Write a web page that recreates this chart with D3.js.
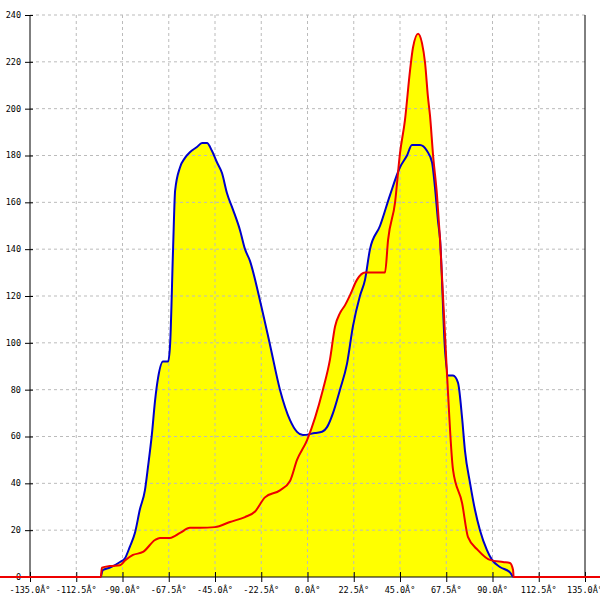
<!DOCTYPE html>
<html><head><meta charset="utf-8">
<script src="https://cdn.jsdelivr.net/npm/d3@7"></script>
<style>body{margin:0;background:#fff}svg{display:block}</style>
</head><body>
<svg id="c" width="600" height="600"></svg>
<script>
const xTicks = [-135, -112.5, -90, -67.5, -45, -22.5, 0, 22.5, 45, 67.5, 90, 112.5, 135];
const yTicks = [0, 20, 40, 60, 80, 100, 120, 140, 160, 180, 200, 220, 240];
const tickSuffix = "Â°";

const blueX = [-100.5,-99.5,-96.1,-91.2,-88.8,-86.4,-83.9,-81.5,-79.1,-77.6,-75.7,-74.2,-72.7,-70.3,-67.8,-66.8,-65.4,-64.4,-62.0,-59.6,-57.1,-53.8,-51.3,-48.9,-46.5,-44.0,-41.6,-39.2,-36.3,-32.8,-30.4,-28.0,-23.1,-18.2,-13.4,-8.5,-5.1,-2.2,3.6,7.1,9.5,12.4,15.8,19.2,22.1,25.5,28.0,30.4,35.3,40.1,45.0,48.4,50.8,54.7,58.1,60.6,62.0,63.5,64.5,66.9,68.4,70.8,73.2,75.2,76.6,79.1,81.5,83.9,87.3,89.8,93.6,98.5,100.0];
const blueY = [0,3,4,6.4,8,13,19,29,37,47,61,75,85,92,92,100,140,165,175,179,181.5,183.6,185.3,185.3,182,177,172.5,164,157,148,140,135,118,99,80,67,62,60.6,61.5,62,64,70,80,91,107,120,127,140,150,163,175,180,184.5,184.5,182,177,166.5,152,144,97,86,86,83,68,54,40,28.6,20,11.5,7.3,4.3,2,0];

const redX = [-160,-100.6,-100.0,-96.1,-91.2,-88.8,-84.9,-80.0,-74.2,-71.8,-66.9,-62.0,-57.2,-52.3,-45.0,-37.7,-30.4,-25.5,-20.7,-13.4,-8.5,-5.1,-0.2,7.5,10.9,13.4,15.8,18.2,20.7,24.1,28.0,37.7,39.2,42.6,45.0,47.4,49.9,51.3,53.8,55.7,57.2,58.6,59.6,61.1,63.0,64.5,67.9,70.8,75.2,78.1,82.9,88.8,95.1,98.5,100.0,100.3,160];
const redY = [0,0,4,4.7,5,7,9.4,10.7,15.8,16.7,16.7,18.8,21,21,21.3,23.5,25.6,28,34,37,41,50,58.5,80,92.7,107,112.7,116,120.4,127,130,130,144,160,181,195,216.5,226,232,228,219.5,205,197,180,163,144,86,45.7,31.6,17,11.5,7.3,6.4,6,3,0,0];

const svg = d3.select("#c");
const x = d3.scaleLinear().domain([-135, 135]).range([30, 585]);
const y = d3.scaleLinear().domain([0, 240]).range([577, 15]);

const blue = blueX.map((d, i) => [d, blueY[i]]);
const red = redX.map((d, i) => [d, redY[i]]);
const curve = d3.curveMonotoneX;

const area = d3.area().x(d => x(d[0])).y0(y(0)).y1(d => y(d[1])).curve(curve);
svg.append("path").datum(blue).attr("d", area).attr("fill", "#ffff00");
svg.append("path").datum(red).attr("d", area).attr("fill", "#ffff00");

// grid
svg.append("g").selectAll("line").data(xTicks.filter(d => d > -135 && d < 135)).join("line")
  .attr("x1", d => x(d)).attr("x2", d => x(d)).attr("y1", y(240)).attr("y2", y(0))
  .attr("stroke", "#bbbbbb").attr("stroke-dasharray", "3,3");
svg.append("g").selectAll("line").data(yTicks.filter(d => d > 0)).join("line")
  .attr("x1", x(-135)).attr("x2", x(135)).attr("y1", d => y(d)).attr("y2", d => y(d))
  .attr("stroke", "#bbbbbb").attr("stroke-dasharray", "3,3");

// axes
const fontF = "'DejaVu Sans Mono', monospace";
const ax = svg.append("g");
ax.append("line").attr("x1", x(-135)).attr("x2", x(-135)).attr("y1", y(240)).attr("y2", y(0)).attr("stroke", "#000");
ax.append("line").attr("x1", x(135)).attr("x2", x(135)).attr("y1", y(240)).attr("y2", y(0)).attr("stroke", "#000");
ax.append("line").attr("x1", x(-135)).attr("x2", x(135)).attr("y1", y(0)).attr("y2", y(0)).attr("stroke", "#000");
ax.selectAll(".yt").data(yTicks).join("line").attr("class", "yt")
  .attr("x1", x(-135) - 5).attr("x2", x(-135) + 3).attr("y1", d => y(d) + 0.5).attr("y2", d => y(d) + 0.5).attr("stroke", "#000");
ax.selectAll(".xt").data(xTicks).join("line").attr("class", "xt")
  .attr("x1", d => x(d) + 0.5).attr("x2", d => x(d) + 0.5).attr("y1", y(0) - 5).attr("y2", y(0) + 5).attr("stroke", "#000");
ax.selectAll(".yl").data(yTicks).join("text").attr("class", "yl")
  .attr("x", 21).attr("y", d => y(d)).attr("dy", "0.35em").attr("text-anchor", "end")
  .attr("font-family", fontF).attr("font-size", "8.5px").attr("fill", "#000").text(d => d);
ax.selectAll(".xl").data(xTicks).join("text").attr("class", "xl")
  .attr("x", d => x(d)).attr("y", 593).attr("text-anchor", "middle")
  .attr("font-family", fontF).attr("font-size", "8.5px").attr("fill", "#000")
  .text(d => d.toFixed(1) + tickSuffix);

// lines
const line = d3.line().x(d => x(d[0])).y(d => y(d[1])).curve(curve);
svg.append("path").datum(blue).attr("d", line).attr("fill", "none").attr("stroke", "#0000cc").attr("stroke-width", 2);
svg.append("path").datum(red).attr("d", line).attr("fill", "none").attr("stroke", "#ee0000").attr("stroke-width", 2);
</script>
</body></html>
